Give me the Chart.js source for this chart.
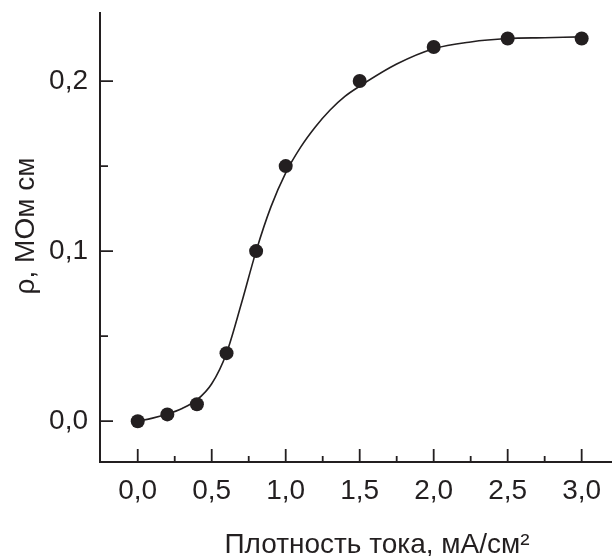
<!DOCTYPE html>
<html>
<head>
<meta charset="utf-8">
<script src="https://cdn.jsdelivr.net/npm/chart.js@4.4.0/dist/chart.umd.min.js"></script>
<style>
  html, body { margin: 0; padding: 0; background: #fff; }
  #wrap { width: 612px; height: 556px; }
</style>
</head>
<body>
<div id="wrap"><canvas id="chart" width="612" height="556"></canvas></div>
<script>
// measured points
const currentDensity = [0, 0.2, 0.4, 0.6, 0.8, 1.0, 1.5, 2.0, 2.5, 3.0];
const resistivity = [0, 0.004, 0.010, 0.040, 0.100, 0.150, 0.200, 0.220, 0.225, 0.225];

// fitted curve
const fitX = [0, 0.1, 0.2, 0.3, 0.4, 0.5, 0.6, 0.7, 0.8, 0.9, 1.0, 1.1, 1.2, 1.3, 1.4, 1.5, 1.75, 2.0, 2.25, 2.5, 2.75, 3.0];
const fitY = [0, 0.0018, 0.0042, 0.0075, 0.0125, 0.022, 0.040, 0.069, 0.100, 0.126, 0.146, 0.161, 0.173, 0.183, 0.191, 0.197, 0.210, 0.219, 0.223, 0.225, 0.2255, 0.226];

const xTicks = [0, 0.5, 1.0, 1.5, 2.0, 2.5, 3.0];
const xTickLabels = ['0,0', '0,5', '1,0', '1,5', '2,0', '2,5', '3,0'];
const xMinorTicks = [0.25, 0.75, 1.25, 1.75, 2.25, 2.75];
const yTicks = [0, 0.1, 0.2];
const yTickLabels = ['0,0', '0,1', '0,2'];
const yMinorTicks = [0.05, 0.15];

const xTitle = 'Плотность тока, мА/см²';
const yTitle = 'ρ, МОм см';

const INK = '#231f20';
const FONT = '"Liberation Sans", Arial, sans-serif';

// axes drawn by hand: ticks point inward like the original plot
const axesFrame = {
    id: 'axesFrame',
    afterDraw(chart) {
        const { ctx, chartArea: a, scales: { x, y } } = chart;
        ctx.save();
        ctx.strokeStyle = INK;
        ctx.lineWidth = 2;
        ctx.beginPath();
        ctx.moveTo(a.left, a.top);
        ctx.lineTo(a.left, a.bottom);
        ctx.lineTo(a.right, a.bottom);
        ctx.stroke();

        ctx.lineWidth = 1.8;
        ctx.beginPath();
        xTicks.forEach(v => {
            const px = x.getPixelForValue(v);
            ctx.moveTo(px, a.bottom);
            ctx.lineTo(px, a.bottom - 13);
        });
        xMinorTicks.forEach(v => {
            const px = x.getPixelForValue(v);
            ctx.moveTo(px, a.bottom);
            ctx.lineTo(px, a.bottom - 6);
        });
        yTicks.forEach(v => {
            const py = y.getPixelForValue(v);
            ctx.moveTo(a.left, py);
            ctx.lineTo(a.left + 13, py);
        });
        yMinorTicks.forEach(v => {
            const py = y.getPixelForValue(v);
            ctx.moveTo(a.left, py);
            ctx.lineTo(a.left + 8, py);
        });
        ctx.stroke();

        // axis titles
        ctx.fillStyle = INK;
        ctx.font = '28px ' + FONT;
        ctx.textAlign = 'center';
        ctx.textBaseline = 'alphabetic';
        ctx.fillText(xTitle, 377, 553);

        ctx.translate(34, 226);
        ctx.rotate(-Math.PI / 2);
        ctx.fillText(yTitle, 0, 0);
        ctx.restore();
    }
};

document.addEventListener('DOMContentLoaded', () => {
    const ctx = document.getElementById('chart');

    new Chart(ctx, {
        type: 'scatter',
        data: {
            datasets: [
                {
                    label: 'points',
                    data: currentDensity.map((v, i) => ({ x: v, y: resistivity[i] })),
                    backgroundColor: INK,
                    borderColor: INK,
                    pointRadius: 7,
                    pointHoverRadius: 7,
                    borderWidth: 0,
                    order: 1
                },
                {
                    label: 'fit',
                    data: fitX.map((v, i) => ({ x: v, y: fitY[i] })),
                    showLine: true,
                    borderColor: INK,
                    borderWidth: 1.6,
                    pointRadius: 0,
                    cubicInterpolationMode: 'monotone',
                    order: 2
                }
            ]
        },
        options: {
            responsive: false,
            animation: false,
            events: [],
            layout: { autoPadding: false, padding: { top: 12, right: 0, left: 0, bottom: 0 } },
            plugins: {
                legend: { display: false },
                tooltip: { enabled: false }
            },
            scales: {
                x: {
                    type: 'linear',
                    min: -0.255,
                    max: 3.205,
                    grid: { display: false, drawTicks: false },
                    border: { display: false },
                    afterBuildTicks: s => { s.ticks = xTicks.map(v => ({ value: v })); },
                    afterFit: s => {
                        s.height = 94;
                        s.paddingLeft = 0;
                        s.paddingRight = 0;
                    },
                    ticks: {
                        color: INK,
                        font: { family: FONT, size: 28 },
                        padding: 12,
                        maxRotation: 0,
                        autoSkip: false,
                        callback: (v, i) => xTickLabels[i]
                    }
                },
                y: {
                    type: 'linear',
                    min: -0.024,
                    max: 0.2406,
                    grid: { display: false, drawTicks: false },
                    border: { display: false },
                    afterBuildTicks: s => { s.ticks = yTicks.map(v => ({ value: v })); },
                    afterFit: s => {
                        s.width = 100;
                        s.paddingTop = 0;
                        s.paddingBottom = 0;
                    },
                    ticks: {
                        color: INK,
                        font: { family: FONT, size: 28 },
                        padding: 12,
                        autoSkip: false,
                        callback: (v, i) => yTickLabels[i]
                    }
                }
            }
        },
        plugins: [axesFrame]
    });
});
</script>
</body>
</html>
